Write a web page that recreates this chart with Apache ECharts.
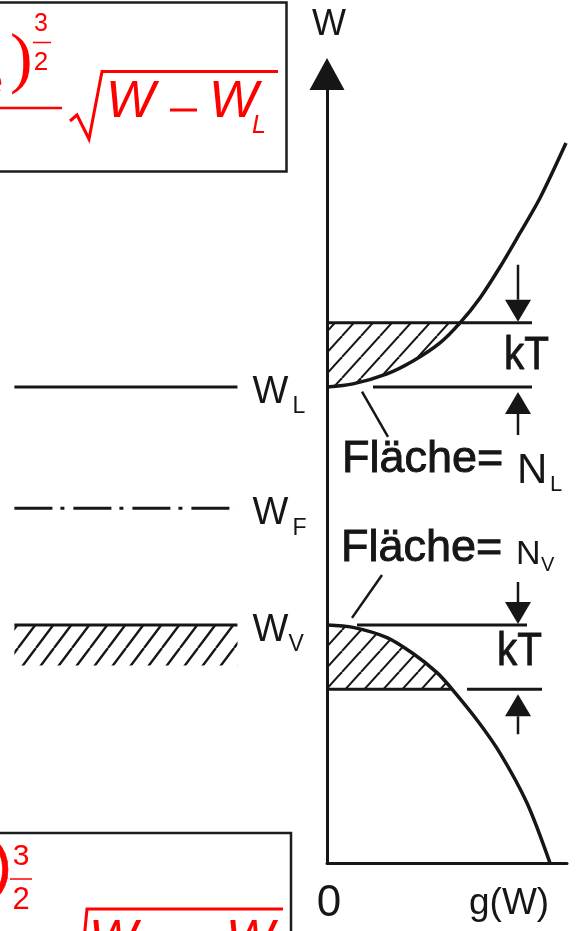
<!DOCTYPE html>
<html>
<head>
<meta charset="utf-8">
<script src="https://cdn.jsdelivr.net/npm/echarts@6/dist/echarts.min.js"></script>
<style>
  html, body { margin: 0; padding: 0; background: #fff; }
  #c { width: 576px; height: 931px; }
</style>
</head>
<body>
<div id="c"></div>
<script>
// Energy levels (arbitrary energy units)
const W_V = 1.0;    // valence band edge
const W_F = 1.49;   // Fermi level
const W_L = 2.0;    // conduction band edge
const kT = 0.27;    // thermal energy

// Density of states g(W) near the conduction band edge
const condG = [0, 0.26, 0.60, 0.86, 1.13, 1.33, 1.53, 1.73, 1.93, 2.13, 2.39];
const condW = [2.0, 2.013, 2.055, 2.109, 2.185, 2.269, 2.374, 2.504, 2.647, 2.794, 3.025];

// Density of states g(W) near the valence band edge
const valG = [0, 0.26, 0.60, 0.86, 1.10, 1.25, 1.50, 1.73, 2.00, 2.23];
const valW = [1.0, 0.99, 0.947, 0.88, 0.80, 0.731, 0.601, 0.462, 0.252, 0.0];

// Band diagram: extent of the level lines along the crystal (0..1)
const bandX = [0.045, 0.742];
const levelValues = [W_L, W_F, W_V];
const levelSubs = ['L', 'F', 'V'];

// kT bracket lines on the g(W) side: [g start, g end, W]
const bracketLines = [
  [0, 2.05, W_L + kT],
  [0.46, 2.05, W_L],
  [0.30, 2.00, W_V],
  [0, 1.25, W_V - kT],
  [1.40, 2.15, W_V - kT]
];
// kT arrows: position on g axis, level they point at, direction
const arrowG = 1.91;
const arrowLevels = [W_L + kT, W_L, W_V, W_V - kT];
const arrowDirs = ['down', 'up', 'down', 'up'];

// leader lines from the "Fläche" labels to the shaded areas
const leaderL = [[0.35, 1.98], [0.61, 1.79]];
const leaderV = [[0.25, 1.03], [0.55, 1.21]];

const INK = '#161616';
const RED = '#ff0000';
const SANS = '"Liberation Sans", Arial, sans-serif';
const SERIF = '"Liberation Serif", "Times New Roman", serif';

// diagonal hatch pattern
function makeHatch(w, h, lw) {
  const c = document.createElement('canvas');
  c.width = w; c.height = h;
  const ctx = c.getContext('2d');
  ctx.strokeStyle = INK;
  ctx.lineWidth = lw;
  for (const dx of [-w, 0, w]) {
    ctx.beginPath();
    ctx.moveTo(dx, h);
    ctx.lineTo(dx + w, 0);
    ctx.stroke();
  }
  return c;
}
const hatchFill = { image: makeHatch(19, 21, 2), repeat: 'repeat' };
const bandHatchFill = { image: makeHatch(18, 24, 2.4), repeat: 'repeat' };

// part of a g(W) curve between the band edge and a given level, closed along the W axis
function shadedRegion(gs, ws, limit, below) {
  const pts = [];
  for (let i = 0; i < gs.length; i++) {
    const inside = below ? ws[i] <= limit : ws[i] >= limit;
    if (inside) { pts.push([gs[i], ws[i]]); continue; }
    const t = (limit - ws[i - 1]) / (ws[i] - ws[i - 1]);
    pts.push([gs[i - 1] + t * (gs[i] - gs[i - 1]), limit]);
    break;
  }
  pts.push([0, limit]);
  return pts;
}
const condShade = shadedRegion(condG, condW, W_L + kT, true);
const valShade = shadedRegion(valG, valW, W_V - kT, false);

const chart = echarts.init(document.getElementById('c'), null, { renderer: 'canvas' });

const W_MAX = 3.315;
const lineBase = { type: 'line', symbol: 'none', silent: true, animation: false };

const series = [];

// band diagram levels
series.push(Object.assign({}, lineBase, {
  xAxisIndex: 0, yAxisIndex: 0,
  data: bandX.map(x => [x, W_L]),
  lineStyle: { color: INK, width: 3 }
}));
series.push(Object.assign({}, lineBase, {
  xAxisIndex: 0, yAxisIndex: 0,
  data: bandX.map(x => [x, W_F]),
  lineStyle: { color: INK, width: 3, type: [38, 8, 4, 9] }
}));
series.push(Object.assign({}, lineBase, {
  xAxisIndex: 0, yAxisIndex: 0,
  data: bandX.map(x => [x, W_V]),
  lineStyle: { color: INK, width: 3 }
}));
// filled valence band below W_V
series.push({
  type: 'custom', xAxisIndex: 0, yAxisIndex: 0, silent: true, animation: false, z: 1,
  data: [[bandX[0], W_V]],
  renderItem: (params, api) => {
    const a = api.coord([bandX[0], W_V]);
    const b = api.coord([bandX[1], W_V - 0.17]);
    return {
      type: 'rect',
      shape: { x: a[0], y: a[1], width: b[0] - a[0], height: b[1] - a[1] },
      style: { fill: bandHatchFill, stroke: null }
    };
  }
});

// shaded areas under the density of states within kT of the band edges
[condShade, valShade].forEach(region => {
  series.push({
    type: 'custom', xAxisIndex: 1, yAxisIndex: 1, silent: true, animation: false, z: 1,
    data: [region[0]],
    renderItem: (params, api) => ({
      type: 'polygon',
      shape: { points: region.map(p => api.coord(p)) },
      style: { fill: hatchFill, stroke: null }
    })
  });
});

// density of states curves
series.push(Object.assign({}, lineBase, {
  xAxisIndex: 1, yAxisIndex: 1, z: 5, smooth: 0.3,
  data: condG.map((g, i) => [g, condW[i]]),
  lineStyle: { color: INK, width: 3.5 }
}));
series.push(Object.assign({}, lineBase, {
  xAxisIndex: 1, yAxisIndex: 1, z: 5, smooth: 0.3,
  data: valG.map((g, i) => [g, valW[i]]),
  lineStyle: { color: INK, width: 3.5 }
}));

// kT bracket lines
bracketLines.forEach(([g0, g1, w]) => {
  series.push(Object.assign({}, lineBase, {
    xAxisIndex: 1, yAxisIndex: 1, z: 4,
    data: [[g0, w], [g1, w]],
    lineStyle: { color: INK, width: 3 }
  }));
});

// leader lines
[leaderL, leaderV].forEach(seg => {
  series.push(Object.assign({}, lineBase, {
    xAxisIndex: 1, yAxisIndex: 1, z: 4,
    data: seg,
    lineStyle: { color: INK, width: 2.5 }
  }));
});

// kT arrows
const stemLen = [57, 43, 42, 40];
series.push({
  type: 'custom', xAxisIndex: 1, yAxisIndex: 1, silent: true, animation: false, z: 6,
  data: arrowLevels.map(w => [arrowG, w]),
  renderItem: (params, api) => {
    const i = params.dataIndex;
    const p = api.coord([api.value(0), api.value(1)]);
    const s = arrowDirs[i] === 'down' ? -1 : 1;
    const gap = arrowDirs[i] === 'down' ? 1 : 5;
    const tip = p[1] + s * gap;
    const base = tip + s * 22;
    const end = tip + s * stemLen[i];
    return {
      type: 'group',
      children: [
        { type: 'line', shape: { x1: p[0], y1: base, x2: p[0], y2: end },
          style: { stroke: INK, lineWidth: 2.5 } },
        { type: 'polygon', shape: { points: [[p[0], tip], [p[0] - 13, base], [p[0] + 13, base]] },
          style: { fill: INK } }
      ]
    };
  }
});

chart.setOption({
  animation: false,
  backgroundColor: '#fff',
  grid: [
    { left: 0, top: 74, width: 320, height: 789 },
    { left: 327, top: 74, width: 240, height: 789 }
  ],
  xAxis: [
    { gridIndex: 0, type: 'value', min: 0, max: 1, show: false },
    { gridIndex: 1, type: 'value', min: 0, max: 2.40,
      axisLine: { show: true, lineStyle: { color: INK, width: 3 } },
      axisTick: { show: false }, axisLabel: { show: false }, splitLine: { show: false } }
  ],
  yAxis: [
    { gridIndex: 0, type: 'value', min: 0, max: W_MAX, show: false },
    { gridIndex: 1, type: 'value', min: 0, max: W_MAX,
      axisLine: { show: true, symbol: ['none', 'triangle'], symbolSize: [35, 32],
        lineStyle: { color: INK, width: 3 } },
      axisTick: { show: false }, axisLabel: { show: false }, splitLine: { show: false } }
  ],
  series
});

function txt(text, x, y, size, o = {}) {
  const color = o.color || INK;
  const el = {
    type: 'text', z: 20, silent: true,
    style: {
      text, x, y, fill: color,
      font: `${o.italic ? 'italic ' : ''}${o.weight || 'normal'} ${size}px ${o.family || SANS}`,
      align: o.align || 'left', verticalAlign: 'middle',
      textAlign: o.align || 'left', textVerticalAlign: 'middle'
    }
  };
  if (o.stroke) { el.style.stroke = color; el.style.lineWidth = o.stroke; }
  if (o.scaleX) { el.scaleX = o.scaleX; el.originX = x; el.originY = y; }
  return el;
}
function seg(x1, y1, x2, y2, lw, color) {
  return { type: 'line', z: 20, silent: true, shape: { x1, y1, x2, y2 },
    style: { stroke: color || RED, lineWidth: lw } };
}
function poly(points, lw, color) {
  return { type: 'polyline', z: 20, silent: true, shape: { points },
    style: { stroke: color || RED, lineWidth: lw, fill: null, lineJoin: 'miter' } };
}

const graphic = [];

// axis labels
graphic.push(txt('W', 329, 25, 36, { align: 'center' }));
graphic.push(txt('0', 329, 904, 44, { align: 'center' }));
graphic.push(txt('g(W)', 469, 904, 37));

// level labels next to the band diagram
levelValues.forEach((w, i) => {
  const p = chart.convertToPixel({ xAxisIndex: 0, yAxisIndex: 0 }, [bandX[1], w]);
  graphic.push(txt('W', p[0] + 15, p[1] + 5.5, 38));
  graphic.push(txt(levelSubs[i], p[0] + (levelSubs[i] === 'V' ? 51 : 55), p[1] + 20, 23));
});

// lettering on the g(W) side
graphic.push(txt('kT', 504, 356, 46, { stroke: 0.8, scaleX: 0.88 }));
graphic.push(txt('kT', 497, 652, 46, { stroke: 0.8, scaleX: 0.88 }));
graphic.push(txt('Fläche=', 342, 460, 45, { stroke: 0.9 }));
graphic.push(txt('N', 517, 471, 42));
graphic.push(txt('L', 550, 485, 22));
graphic.push(txt('Fläche=', 341, 549, 45, { stroke: 0.9 }));
graphic.push(txt('N', 516, 555, 34));
graphic.push(txt('V', 541, 565, 20));

// formula box, conduction band
graphic.push({ type: 'rect', z: 15, silent: true,
  shape: { x: -10, y: 2.5, width: 296.5, height: 169 },
  style: { fill: '#fff', stroke: '#1c1c1c', lineWidth: 2.5 } });
graphic.push(txt('e', 3, 84, 40, { color: RED, align: 'right' }));
graphic.push(txt(')', 10, 62, 68, { color: RED, family: SERIF }));
graphic.push(txt('3', 41, 24, 25, { color: RED, align: 'center' }));
graphic.push(seg(33, 42.5, 51, 42.5, 1.5));
graphic.push(txt('2', 41, 63, 26, { color: RED, align: 'center' }));
graphic.push(seg(0, 108, 62, 108, 2.5));
graphic.push(poly([[70, 121], [77, 115], [89, 139], [102, 71.5], [278, 71.5]], 3));
graphic.push(txt('W', 106, 103, 52, { color: RED, italic: true }));
graphic.push(seg(170, 110, 197, 110, 3));
graphic.push(txt('W', 209, 103, 52, { color: RED, italic: true }));
graphic.push(txt('L', 252, 126, 25, { color: RED, italic: true }));

// formula box, valence band
graphic.push({ type: 'rect', z: 15, silent: true,
  shape: { x: -10, y: 833, width: 301, height: 140 },
  style: { fill: '#fff', stroke: '#1c1c1c', lineWidth: 2.5 } });
graphic.push(txt(')', 12, 868, 62, { color: RED, align: 'right', stroke: 0.6 }));
graphic.push(txt('3', 21, 857, 30, { color: RED, align: 'center' }));
graphic.push(seg(10, 879, 32, 879, 1.5));
graphic.push(txt('2', 21, 900, 31, { color: RED, align: 'center' }));
graphic.push(poly([[84, 940], [87, 909], [283, 909]], 3));
graphic.push(txt('W', 89, 942, 51, { color: RED, italic: true }));
graphic.push(txt('W', 226, 942, 51, { color: RED, italic: true }));

chart.setOption({ graphic });
</script>
</body>
</html>
